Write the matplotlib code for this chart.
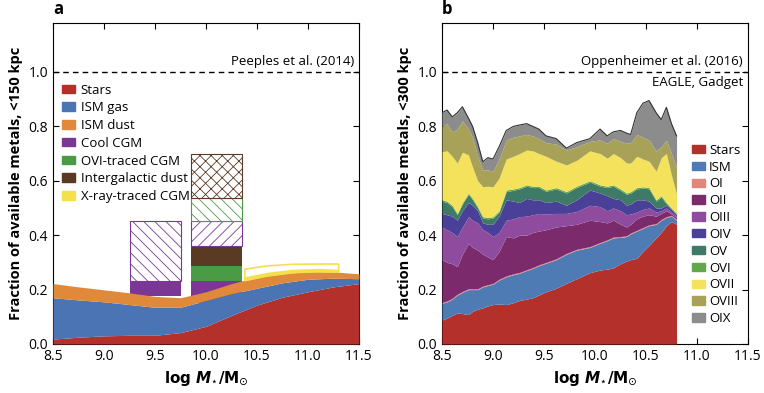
import numpy as np
import matplotlib.pyplot as plt
from matplotlib.patches import Patch

# ---- panel a: Peeples et al. (2014), <150 kpc ----
mass_a = [8.5, 8.75, 9.0, 9.25, 9.5, 9.75, 10.0, 10.25, 10.5, 10.75, 11.0, 11.25, 11.5]
stars_a = [0.018, 0.025, 0.030, 0.032, 0.032, 0.042, 0.065, 0.105, 0.143, 0.172, 0.192, 0.210, 0.222]
ismgas_top = [0.170, 0.162, 0.155, 0.145, 0.135, 0.135, 0.160, 0.185, 0.205, 0.225, 0.238, 0.242, 0.240]
ismdust_top = [0.222, 0.210, 0.199, 0.188, 0.175, 0.170, 0.192, 0.222, 0.247, 0.260, 0.266, 0.265, 0.258]

# bars: (left, right) in log M
bar1_x = (9.25, 9.75)
bar2_x = (9.85, 10.35)
bar1_cool = (0.178, 0.233)        # solid cool CGM
bar1_cool_hatch = (0.233, 0.452)  # hatched cool CGM
bar2_levels = [0.15, 0.233, 0.288, 0.362, 0.452, 0.535, 0.698]
# cool, OVI, IG dust, cool (hatched), OVI (hatched), IG dust (hatched)

xray_x = [10.38, 10.6, 10.85, 11.1, 11.3]
xray_lo = [0.233, 0.250, 0.262, 0.266, 0.264]
xray_mid = [0.247, 0.264, 0.275, 0.278, 0.275]
xray_hi = [0.275, 0.287, 0.293, 0.294, 0.294]

# ---- panel b: Oppenheimer et al. (2016), <300 kpc, cumulative tops ----
mass_b = [8.50, 8.55, 8.60, 8.65, 8.70, 8.76, 8.80, 8.85, 8.90, 8.95, 9.00, 9.06, 9.13,
          9.20, 9.26, 9.33, 9.39, 9.45, 9.52, 9.62, 9.72, 9.82, 9.95, 10.05, 10.12, 10.18,
          10.25, 10.31, 10.35, 10.41, 10.47, 10.53, 10.60, 10.65, 10.70, 10.75, 10.80]
top_stars = [.088, .095, .105, .114, .112, .108, .120, .128, .133, .140, .145, .147, .145,
             .152, .160, .165, .170, .180, .192, .205, .223, .240, .262, .272, .275, .280,
             .295, .305, .310, .315, .340, .362, .390, .410, .435, .450, .440]
top_ism = [.150, .155, .165, .180, .190, .200, .200, .200, .210, .215, .220, .235, .247,
           .255, .260, .270, .278, .288, .297, .310, .330, .345, .355, .370, .380, .390,
           .392, .395, .405, .415, .425, .435, .440, .455, .465, .470, .455]
top_oi = [.153, .158, .168, .183, .193, .203, .203, .203, .213, .218, .223, .238, .250,
          .258, .263, .273, .281, .291, .300, .313, .333, .348, .358, .373, .383, .393,
          .395, .398, .408, .418, .428, .438, .443, .458, .468, .473, .458]
top_oii = [.310, .300, .295, .284, .330, .370, .355, .345, .330, .320, .310, .340, .395,
           .390, .400, .400, .410, .415, .420, .430, .435, .440, .455, .450, .445, .455,
           .440, .430, .440, .460, .470, .475, .470, .480, .490, .478, .465]
top_oiii = [.430, .420, .410, .395, .430, .468, .455, .445, .420, .410, .395, .410, .455,
            .460, .468, .470, .475, .480, .478, .480, .480, .487, .510, .505, .490, .500,
            .490, .475, .478, .485, .495, .500, .485, .490, .500, .485, .470]
top_oiv = [.480, .475, .470, .455, .490, .520, .510, .490, .445, .440, .440, .470, .530,
           .525, .520, .535, .530, .530, .520, .525, .510, .530, .566, .555, .545, .535,
           .530, .510, .515, .530, .530, .525, .500, .500, .510, .495, .475]
top_ov = [.525, .520, .505, .475, .515, .550, .530, .500, .463, .460, .463, .485, .560,
          .565, .570, .580, .575, .575, .561, .570, .555, .575, .595, .580, .575, .580,
          .565, .550, .555, .570, .573, .570, .525, .540, .515, .498, .478]
top_ovi = [.530, .525, .510, .480, .520, .555, .535, .505, .468, .465, .468, .490, .566,
           .570, .575, .585, .580, .580, .566, .575, .560, .580, .600, .585, .580, .585,
           .570, .555, .560, .575, .578, .575, .530, .545, .520, .500, .480]
top_ovii = [.707, .710, .690, .665, .705, .695, .650, .600, .578, .580, .578, .610, .680,
            .690, .700, .713, .710, .700, .690, .672, .658, .675, .710, .700, .683, .700,
            .685, .665, .665, .690, .680, .672, .635, .685, .700, .620, .550]
top_oviii = [.800, .810, .780, .790, .820, .790, .760, .690, .640, .640, .635, .680, .750,
             .760, .765, .770, .765, .755, .740, .735, .713, .725, .745, .750, .738, .755,
             .745, .738, .740, .770, .760, .750, .710, .725, .750, .700, .650]
top_oix = [.850, .860, .835, .850, .872, .830, .800, .740, .670, .685, .680, .725, .785,
           .800, .805, .810, .800, .790, .765, .755, .720, .740, .755, .790, .765, .780,
           .785, .775, .770, .850, .885, .895, .850, .825, .870, .810, .765]

names_b = ["Stars", "ISM", "OI", "OII", "OIII", "OIV", "OV", "OVI", "OVII", "OVIII", "OIX"]
colors_b = ["#b3302b", "#4f7bb5", "#e2857a", "#7b2a6c", "#8f4c9f", "#4a4098", "#3f7a68",
            "#62a84b", "#f4e25c", "#a8a259", "#8c8c8c"]

c_stars, c_gas, c_dust = "#b3302b", "#4a74b4", "#e0893b"
c_cool, c_ovi, c_igd, c_xray = "#7a3894", "#4b9a45", "#5a3a22", "#f4e04a"

plt.rcParams['font.family'] = ['Open Sans', 'DejaVu Sans']
plt.rcParams['hatch.linewidth'] = 0.6

fig = plt.figure(figsize=(7.64, 3.93), dpi=100)
ax1 = fig.add_axes([0.0694, 0.1247, 0.4005, 0.8168])
ax2 = fig.add_axes([0.5785, 0.1247, 0.4005, 0.8168])

# panel a stack
zero = np.zeros(len(mass_a))
ax1.fill_between(mass_a, zero, stars_a, color=c_stars, lw=0, zorder=3)
ax1.fill_between(mass_a, stars_a, ismgas_top, color=c_gas, lw=0, zorder=3)
ax1.fill_between(mass_a, ismgas_top, ismdust_top, color=c_dust, lw=0, zorder=3)

# bars
w1 = bar1_x[1] - bar1_x[0]
ax1.bar(bar1_x[0], bar1_cool[1] - bar1_cool[0], bottom=bar1_cool[0], width=w1, align='edge',
        color=c_cool, lw=0, zorder=2)
ax1.bar(bar1_x[0], bar1_cool_hatch[1] - bar1_cool_hatch[0], bottom=bar1_cool_hatch[0], width=w1,
        align='edge', facecolor='white', edgecolor=c_cool, hatch='\\\\\\', lw=0.8, zorder=2)

w2 = bar2_x[1] - bar2_x[0]
seg_colors = [c_cool, c_ovi, c_igd, c_cool, c_ovi, c_igd]
seg_hatch = [None, None, None, '///', '\\\\\\', 'xxx']
for i in range(6):
    lo, hi = bar2_levels[i], bar2_levels[i + 1]
    if seg_hatch[i] is None:
        ax1.bar(bar2_x[0], hi - lo, bottom=lo, width=w2, align='edge', color=seg_colors[i],
                lw=0, zorder=2)
    else:
        ax1.bar(bar2_x[0], hi - lo, bottom=lo, width=w2, align='edge', facecolor='white',
                edgecolor=seg_colors[i], hatch=seg_hatch[i], lw=0.8, zorder=2)

# X-ray traced band
ax1.fill_between(xray_x, xray_lo, xray_mid, color=c_xray, lw=0, zorder=4)
ax1.fill_between(xray_x, xray_lo, xray_hi, facecolor='none', edgecolor=c_xray, lw=1.2, zorder=4)

ax1.axhline(1.0, color='black', ls=(0, (4, 3)), lw=1, zorder=5)
ax1.text(11.45, 1.015, "Peeples et al. (2014)", ha='right', va='bottom', fontsize=9.5)

handles_a = [Patch(color=c) for c in [c_stars, c_gas, c_dust, c_cool, c_ovi, c_igd, c_xray]]
labels_a = ["Stars", "ISM gas", "ISM dust", "Cool CGM", "OVI-traced CGM", "Intergalactic dust",
            "X-ray-traced CGM"]
ax1.legend(handles_a, labels_a, loc='upper left', bbox_to_anchor=(0.0, 0.84), frameon=False,
           fontsize=9.5, handlelength=1.0, handleheight=0.6, handletextpad=0.4, labelspacing=0.36,
           borderaxespad=0.3)
ax1.set_ylabel("Fraction of available metals, <150 kpc", fontweight='bold', fontsize=10.5)

# panel b stack
tops = [top_stars, top_ism, top_oi, top_oii, top_oiii, top_oiv, top_ov, top_ovi,
        top_ovii, top_oviii, top_oix]
prev = np.zeros(len(mass_b))
for top, c in zip(tops, colors_b):
    ax2.fill_between(mass_b, prev, top, color=c, lw=0, zorder=3)
    prev = np.array(top)
ax2.plot(mass_b, top_oix, color='#333333', lw=0.8, zorder=4)

ax2.axhline(1.0, color='black', ls=(0, (4, 3)), lw=1, zorder=5)
ax2.text(11.45, 1.015, "Oppenheimer et al. (2016)", ha='right', va='bottom', fontsize=9.5)
ax2.text(11.45, 0.985, "EAGLE, Gadget", ha='right', va='top', fontsize=9.5)

handles_b = [Patch(color=c) for c in colors_b]
ax2.legend(handles_b, names_b, loc='upper left', bbox_to_anchor=(0.80, 0.64), frameon=False,
           fontsize=9.5, handlelength=1.0, handleheight=0.6, handletextpad=0.3, labelspacing=0.29,
           borderaxespad=0.0)
ax2.set_ylabel("Fraction of available metals, <300 kpc", fontweight='bold', fontsize=10.5)

for ax, lab in [(ax1, 'a'), (ax2, 'b')]:
    ax.set_xlim(8.5, 11.5)
    ax.set_ylim(0, 1.18)
    ax.set_xticks([8.5, 9.0, 9.5, 10.0, 10.5, 11.0, 11.5])
    ax.set_yticks([0.0, 0.2, 0.4, 0.6, 0.8, 1.0])
    ax.xaxis.set_major_formatter(plt.FormatStrFormatter('%.1f'))
    ax.yaxis.set_major_formatter(plt.FormatStrFormatter('%.1f'))
    ax.tick_params(direction='in', top=True, right=True, length=4, width=0.8, labelsize=10)
    for s in ax.spines.values():
        s.set_linewidth(0.8)
    ax.set_xlabel(r'$\mathbf{log}\ \mathbfit{M}_{\star}\mathbf{/M}_{\odot}$', fontsize=11)
    ax.text(0.0, 1.015, lab, transform=ax.transAxes, fontsize=12, fontweight='bold',
            ha='left', va='bottom')

fig.savefig("out.png", dpi=100)
